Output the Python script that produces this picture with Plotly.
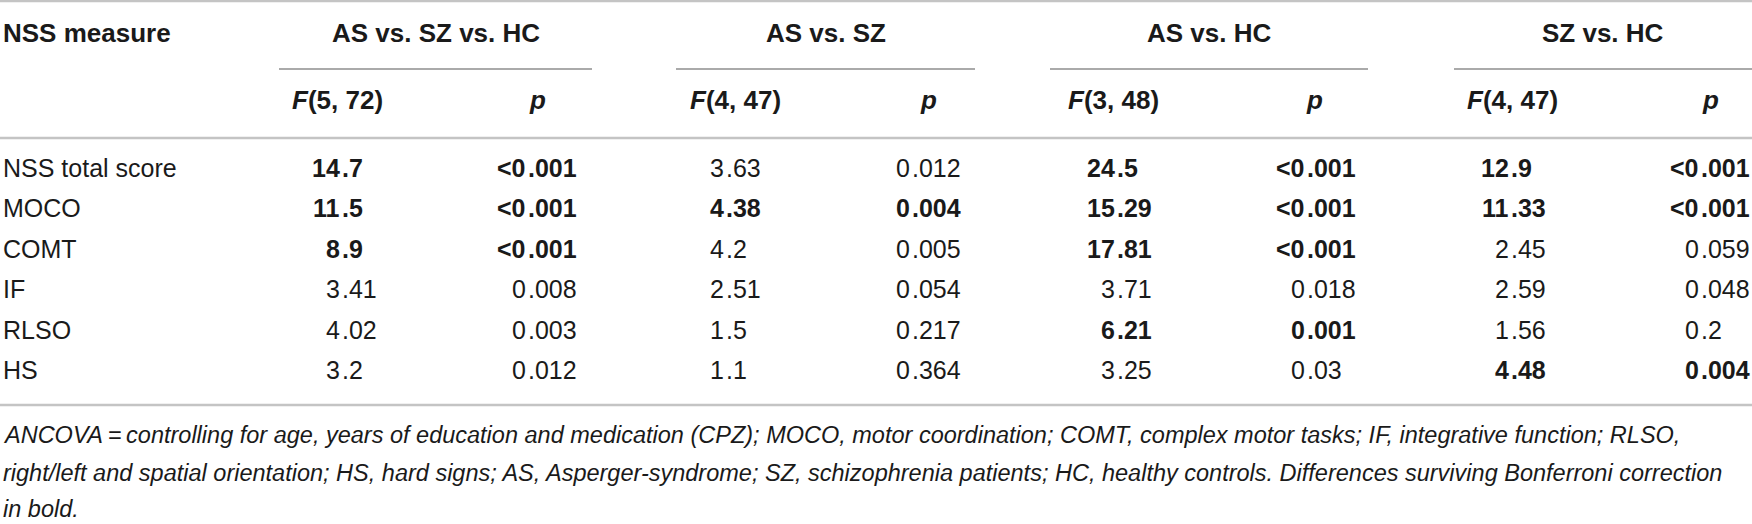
import plotly.graph_objects as go

# Table data
measures = ["NSS total score", "MOCO", "COMT", "IF", "RLSO", "HS"]
comparisons = ["AS vs. SZ vs. HC", "AS vs. SZ", "AS vs. HC", "SZ vs. HC"]
f_dfs = ["5, 72", "4, 47", "3, 48", "4, 47"]

as_sz_hc_f = [14.7, 11.5, 8.9, 3.41, 4.02, 3.2]
as_sz_hc_p = ["<0.001", "<0.001", "<0.001", "0.008", "0.003", "0.012"]
as_sz_f = [3.63, 4.38, 4.2, 2.51, 1.5, 1.1]
as_sz_p = ["0.012", "0.004", "0.005", "0.054", "0.217", "0.364"]
as_hc_f = [24.5, 15.29, 17.81, 3.71, 6.21, 3.25]
as_hc_p = ["<0.001", "<0.001", "<0.001", "0.018", "0.001", "0.03"]
sz_hc_f = [12.9, 11.33, 2.45, 2.59, 1.56, 4.48]
sz_hc_p = ["<0.001", "<0.001", "0.059", "0.048", "0.2", "0.004"]

# 1 = survives Bonferroni correction (shown in bold)
as_sz_hc_bold = [1, 1, 1, 0, 0, 0]
as_sz_bold = [0, 1, 0, 0, 0, 0]
as_hc_bold = [1, 1, 1, 0, 1, 0]
sz_hc_bold = [1, 1, 0, 0, 0, 1]

footnote_lines = [
    "ANCOVA\u2009=\u2009controlling for age, years of education and medication (CPZ); MOCO, motor coordination; "
    "COMT, complex motor tasks; IF, integrative function; RLSO,",
    "right/left and spatial orientation; HS, hard signs; AS, Asperger-syndrome; SZ, schizophrenia patients; "
    "HC, healthy controls. Differences surviving Bonferroni correction",
    "in bold.",
]

f_cols = [as_sz_hc_f, as_sz_f, as_hc_f, sz_hc_f]
p_cols = [as_sz_hc_p, as_sz_p, as_hc_p, sz_hc_p]
bold_cols = [as_sz_hc_bold, as_sz_bold, as_hc_bold, sz_hc_bold]

# Layout (pixel-like axis units)
W, H = 1752, 524
row_y = [168, 208, 249, 289, 330, 370]
head_y, sub_y = 33, 100
f_dec_x = [341, 725, 1116, 1510]   # decimal point position of F column
p_dec_x = [527, 911, 1306, 1700]   # decimal point position of p column
f_head_x = [337, 735, 1113, 1512]
p_head_x = [537, 928, 1314, 1710]
group_span = [(279, 592), (676, 975), (1050, 1368), (1454, 1752)]
foot_y = [435, 473, 509]

FONT = "Liberation Sans, Arial, sans-serif"
TXT = "#1a1a1a"
fig = go.Figure()
ann = []


def add_text(x, y, text, anchor="left", size=25):
    ann.append(dict(x=x, y=y, xref="x", yref="y", text=text, showarrow=False,
                    xanchor=anchor, yanchor="middle", borderpad=0,
                    font=dict(family=FONT, size=size, color=TXT)))


def add_decimal(x, y, value, bold):
    s = str(value)
    left, _, right = s.partition(".")
    if bold:
        add_text(x, y, f"<b>{left}</b>", "right")
        add_text(x, y, f"<b>.{right}</b>", "left")
    else:
        add_text(x, y, left, "right")
        add_text(x, y, "." + right, "left")


# Header
add_text(2, head_y, "<b>NSS measure</b>", size=26)
for i, comp in enumerate(comparisons):
    x0, x1 = group_span[i]
    add_text((x0 + x1) / 2, head_y, f"<b>{comp}</b>", "center", size=26)
    add_text(f_head_x[i], sub_y, f"<b><i>F</i>({f_dfs[i]})</b>", "center", size=26)
    add_text(p_head_x[i], sub_y, "<b><i>p</i></b>", "center", size=26)

# Body
for r, m in enumerate(measures):
    add_text(2, row_y[r], m)
    for c in range(len(comparisons)):
        b = bold_cols[c][r]
        add_decimal(f_dec_x[c], row_y[r], f_cols[c][r], b)
        add_decimal(p_dec_x[c], row_y[r], p_cols[c][r], b)

# Footnote
for y, line in zip(foot_y, footnote_lines):
    add_text(2, y, f"<i>{line}</i>", size=23.5)

# Rules
shapes = []
for y in [1, 138, 405]:
    shapes.append(dict(type="line", xref="x", yref="y", x0=0, x1=W, y0=y, y1=y,
                       line=dict(color="#c4c4c4", width=2.5)))
for x0, x1 in group_span:
    shapes.append(dict(type="line", xref="x", yref="y", x0=x0, x1=x1, y0=69, y1=69,
                       line=dict(color="#8e8e8e", width=1.5)))

fig.update_layout(
    width=W, height=H,
    margin=dict(l=0, r=0, t=0, b=0),
    paper_bgcolor="white", plot_bgcolor="white",
    xaxis=dict(range=[0, W], visible=False, fixedrange=True),
    yaxis=dict(range=[H, 0], visible=False, fixedrange=True),
    annotations=ann, shapes=shapes, showlegend=False,
)

# drop the browser's default page margin so the figure fills the window
fig.write_html("out.html", config={"displayModeBar": False},
               post_script="document.body.style.margin='0';")
